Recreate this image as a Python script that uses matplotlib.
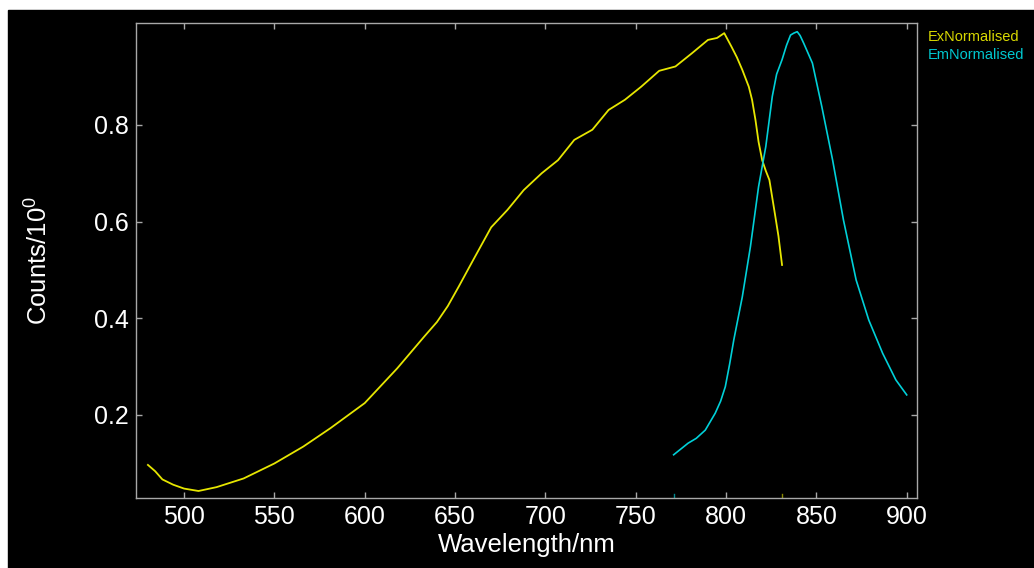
import matplotlib
matplotlib.use("Agg")
from matplotlib import pyplot as plt
from matplotlib.patches import Rectangle
import matplotlib.transforms as mtransforms

plt.rcParams['font.family'] = ['Liberation Sans', 'DejaVu Sans']
plt.rcParams['mathtext.default'] = 'regular'

# excitation spectrum (normalised)
ex_nm = [480, 484, 488, 494, 500, 508, 518, 533, 550, 566, 581, 600, 618, 633,
         640, 646, 652, 660, 670, 679, 688, 698, 707, 716, 726, 735, 744, 753,
         763, 772, 781, 790, 795, 799, 803, 806, 809, 812.6, 814.4, 816.3, 818,
         820, 822, 824, 827, 829, 831]
ex_val = [0.096, 0.083, 0.066, 0.055, 0.047, 0.042, 0.050, 0.068, 0.099, 0.134,
          0.172, 0.224, 0.296, 0.362, 0.392, 0.425, 0.465, 0.52, 0.588, 0.624,
          0.665, 0.70, 0.727, 0.769, 0.79, 0.831, 0.852, 0.879, 0.912, 0.921,
          0.948, 0.976, 0.98, 0.99, 0.962, 0.94, 0.914, 0.879, 0.852, 0.81,
          0.765, 0.727, 0.705, 0.686, 0.617, 0.57, 0.51]

# emission spectrum (normalised)
em_nm = [771, 779, 783.5, 788.5, 794, 797, 799.6, 802, 804.3, 809, 813.5, 818,
         822, 825.6, 828, 831, 833.5, 835.7, 837.5, 839.4, 841, 843, 847.8, 853,
         859, 865, 872, 879, 886.7, 894, 900]
em_val = [0.117, 0.141, 0.151, 0.168, 0.203, 0.228, 0.258, 0.305, 0.355, 0.444,
          0.548, 0.672, 0.755, 0.859, 0.905, 0.935, 0.965, 0.986, 0.99, 0.993,
          0.985, 0.969, 0.928, 0.838, 0.727, 0.603, 0.479, 0.396, 0.327, 0.272,
          0.241]

ex_col = '#e6e600'
em_col = '#00d0d8'
frame = '#a8a8a8'

fig = plt.figure(figsize=(10.34, 5.68), dpi=100, facecolor='white')
fig.patches.append(Rectangle((8 / 1034, 0), 1 - 8 / 1034, 558 / 568,
                             transform=fig.transFigure, color='black', zorder=-10))

ax = fig.add_axes([136 / 1034, 1 - 498 / 568, 781 / 1034, 475 / 568])
ax.set_facecolor('black')

ax.plot(ex_nm, ex_val, color=ex_col, lw=1.3)
ax.plot(em_nm, em_val, color=em_col, lw=1.2)

# small coloured marks on the x axis where each trace ends / begins
trans = mtransforms.blended_transform_factory(ax.transData, ax.transAxes)
ax.plot([ex_nm[-1], ex_nm[-1]], [0, 0.009], color='#8a8a00', lw=1, transform=trans)
ax.plot([em_nm[0], em_nm[0]], [0, 0.009], color='#008a90', lw=1, transform=trans)

ax.set_xlim(473.4, 905.7)
ax.set_ylim(0.0275, 1.011)
ax.set_xticks([500, 550, 600, 650, 700, 750, 800, 850, 900])
ax.set_yticks([0.2, 0.4, 0.6, 0.8])

for s in ax.spines.values():
    s.set_color(frame)
    s.set_linewidth(1)
ax.tick_params(direction='in', length=4, width=1, color=frame,
               top=True, right=True, labelcolor='white', labelsize=18, pad=5)

ax.set_xlabel('Wavelength/nm', color='white', fontsize=18.5, labelpad=3)
ax.set_ylabel('Counts/10$^0$', color='white', fontsize=18.5, labelpad=30)

fig.text(928 / 1034, 1 - 37 / 568, 'ExNormalised', color='#d8d800',
         fontsize=10.5, va='center')
fig.text(928 / 1034, 1 - 55 / 568, 'EmNormalised', color='#00c8d0',
         fontsize=10.5, va='center')

plt.savefig('out.png', dpi=100, facecolor='white')
